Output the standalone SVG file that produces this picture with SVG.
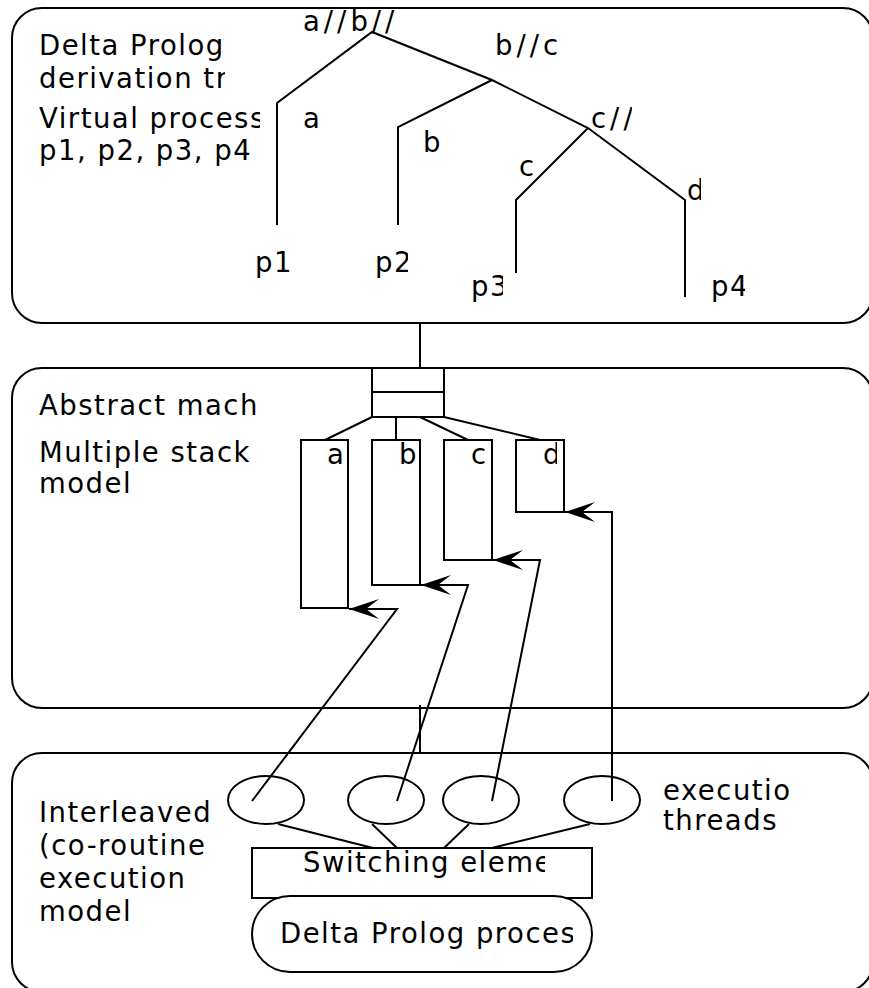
<svg xmlns="http://www.w3.org/2000/svg" width="869" height="988" viewBox="0 0 869 988">
<style>
.t{font-family:"DejaVu Sans",sans-serif;font-size:27.5px;letter-spacing:1.5px;fill:#000}
.sl{letter-spacing:4px}
.s{fill:none;stroke:#000;stroke-width:2}
.w{fill:#fff;stroke:#000;stroke-width:2}
</style>
<defs>
<marker id="ah" markerUnits="userSpaceOnUse" orient="auto" refX="0" refY="0" markerWidth="32" markerHeight="22" overflow="visible">
<path d="M0,0 L-30,-10 L-17,0 L-30,10 Z" fill="#000"/>
</marker>
<clipPath id="c1"><rect x="0" y="60" width="225" height="40"/></clipPath>
<clipPath id="c2"><rect x="0" y="100" width="260" height="40"/></clipPath>
<clipPath id="c3"><rect x="0" y="130" width="262" height="40"/></clipPath>
<clipPath id="c4"><rect x="290" y="0" width="108" height="40"/></clipPath>
<clipPath id="c5"><rect x="580" y="100" width="52" height="40"/></clipPath>
<clipPath id="c6"><rect x="680" y="170" width="21" height="40"/></clipPath>
<clipPath id="c7"><rect x="360" y="240" width="48" height="45"/></clipPath>
<clipPath id="c8"><rect x="460" y="265" width="43" height="45"/></clipPath>
<clipPath id="c9"><rect x="700" y="265" width="45" height="45"/></clipPath>
<clipPath id="c10"><rect x="0" y="385" width="266" height="40"/></clipPath>
<clipPath id="c11"><rect x="530" y="440" width="27" height="35"/></clipPath>
<clipPath id="c12"><rect x="0" y="828" width="210" height="40"/></clipPath>
<clipPath id="c13"><rect x="650" y="770" width="140" height="40"/></clipPath>
<clipPath id="c14"><rect x="290" y="849" width="255" height="40"/></clipPath>
<clipPath id="c15"><rect x="270" y="910" width="303" height="45"/></clipPath>
</defs>

<g id="panel-derivation">
<rect class="s" x="12" y="8" width="861" height="315" rx="30"/>
<text class="t" x="39" y="55">Delta Prolog</text>
<text class="t" x="39" y="88" clip-path="url(#c1)">derivation tree</text>
<text class="t" x="39" y="128" clip-path="url(#c2)">Virtual process</text>
<text class="t" x="39" y="160" clip-path="url(#c3)">p1, p2, p3, p4</text>
</g>

<g id="tree">
<path class="s" d="M277,225 L277,103 L372,32 L492,80 L588,128 L685,200 L685,297"/>
<path class="s" d="M398,225 L398,127 L492,80"/>
<path class="s" d="M516,273 L516,200 L588,128"/>
<text class="t sl" x="303" y="31" clip-path="url(#c4)">a//b//</text>
<text class="t sl" x="495" y="55">b//c</text>
<text class="t" x="303" y="128">a</text>
<text class="t" x="423" y="152">b</text>
<text class="t sl" x="591" y="128" clip-path="url(#c5)">c//</text>
<text class="t" x="519" y="176">c</text>
<text class="t" x="687" y="200" clip-path="url(#c6)">d</text>
<text class="t" x="255" y="272">p1</text>
<text class="t" x="375" y="272" clip-path="url(#c7)">p2</text>
<text class="t" x="471" y="296" clip-path="url(#c8)">p3</text>
<text class="t" x="711" y="296" clip-path="url(#c9)">p4</text>
</g>

<g id="panel-abstract">
<rect class="s" x="12" y="368" width="861" height="340" rx="30"/>
<text class="t" x="39" y="415" clip-path="url(#c10)">Abstract mach</text>
<text class="t" x="39" y="462">Multiple stack</text>
<text class="t" x="39" y="493">model</text>
</g>

<g id="stack-root">
<rect class="w" x="372" y="368" width="72" height="49"/>
<line class="s" x1="372" y1="392" x2="444" y2="392"/>
</g>
<g id="stack-a">
<rect class="s" x="301" y="440" width="47" height="168"/>
<text class="t" x="327" y="464">a</text>
</g>
<g id="stack-b">
<rect class="s" x="372" y="440" width="48" height="145"/>
<text class="t" x="399" y="464">b</text>
</g>
<g id="stack-c">
<rect class="s" x="444" y="440" width="48" height="120"/>
<text class="t" x="471" y="464">c</text>
</g>
<g id="stack-d">
<rect class="s" x="516" y="440" width="48" height="72"/>
<text class="t" x="543" y="464" clip-path="url(#c11)">d</text>
</g>

<g id="panel-execution">
<rect class="s" x="12" y="753" width="861" height="239" rx="30"/>
<text class="t" x="39" y="822">Interleaved</text>
<text class="t" x="39" y="855" clip-path="url(#c12)">(co-routine</text>
<text class="t" x="39" y="888">execution</text>
<text class="t" x="39" y="921">model</text>
<text class="t" x="663" y="800" clip-path="url(#c13)">execution</text>
<text class="t" x="663" y="830">threads</text>
</g>

<g id="thread-1"><ellipse class="s" cx="266" cy="800" rx="38" ry="24"/></g>
<g id="thread-2"><ellipse class="s" cx="386" cy="800" rx="38" ry="24"/></g>
<g id="thread-3"><ellipse class="s" cx="481" cy="800" rx="38" ry="24"/></g>
<g id="thread-4"><ellipse class="s" cx="602" cy="800" rx="38" ry="24"/></g>

<g id="switching-element">
<rect class="s" x="252" y="848" width="340" height="50"/>
<text class="t" x="303" y="872" clip-path="url(#c14)">Switching element</text>
</g>
<g id="process">
<rect class="w" x="252" y="896" width="340" height="76" rx="38"/>
<text class="t" x="280" y="943" clip-path="url(#c15)">Delta Prolog process</text>
</g>

<g id="connectors">
<line class="s" x1="420" y1="323" x2="420" y2="368"/>
<line class="s" x1="372" y1="417" x2="325" y2="440"/>
<line class="s" x1="396" y1="417" x2="396" y2="440"/>
<line class="s" x1="420" y1="417" x2="468" y2="440"/>
<line class="s" x1="444" y1="417" x2="540" y2="440"/>
<line class="s" x1="420" y1="705" x2="420" y2="753"/>
<path class="s" d="M252,801 L397,609 L349,609" marker-end="url(#ah)"/>
<path class="s" d="M397,801 L468,585 L421,585" marker-end="url(#ah)"/>
<path class="s" d="M492,801 L540,560 L493,560" marker-end="url(#ah)"/>
<path class="s" d="M612,801 L612,512 L565,512" marker-end="url(#ah)"/>
<line class="s" x1="278" y1="824" x2="373" y2="848"/>
<line class="s" x1="372" y1="824" x2="397" y2="848"/>
<line class="s" x1="469" y1="824" x2="444" y2="848"/>
<line class="s" x1="590" y1="824" x2="492" y2="848"/>
</g>
</svg>
